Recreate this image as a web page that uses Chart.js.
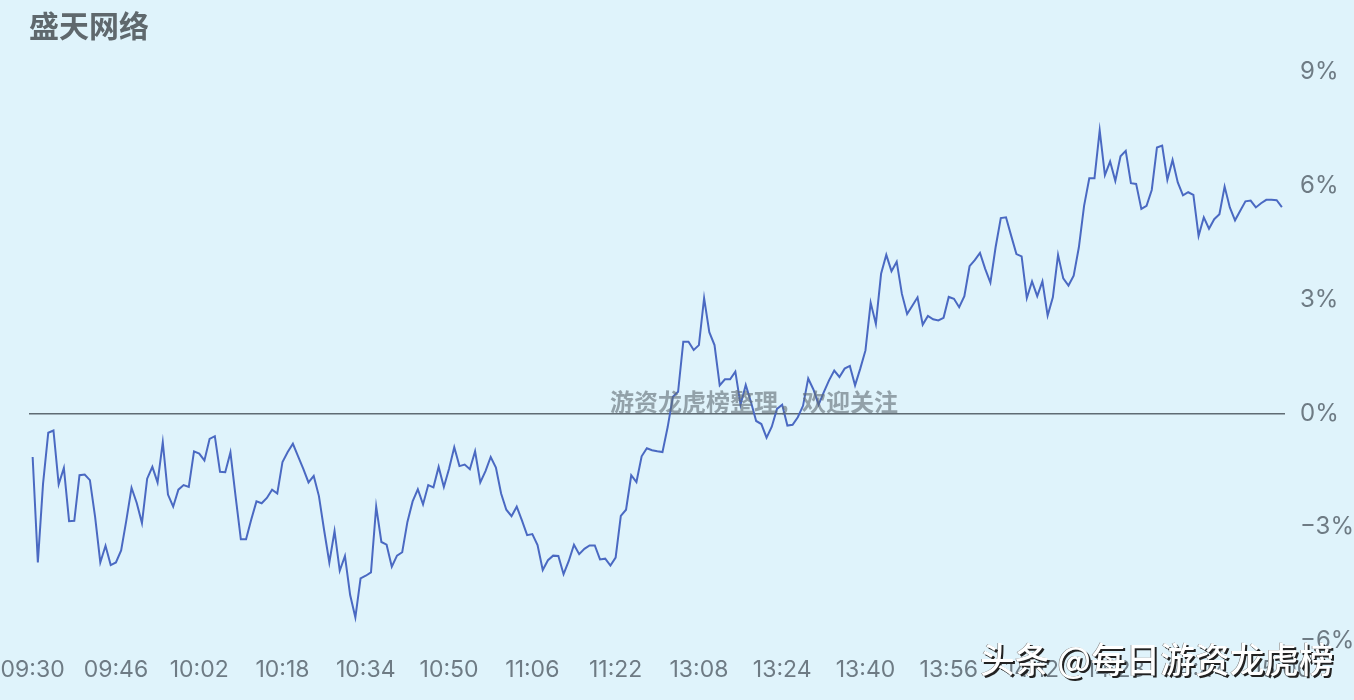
<!DOCTYPE html>
<html>
<head>
<meta charset="utf-8">
<title>盛天网络</title>
<script src="https://cdn.jsdelivr.net/npm/chart.js@4"></script>
<style>
  html, body { margin: 0; padding: 0; background: #dff3fb; overflow: hidden; }
  #wrap { position: relative; width: 1354px; height: 700px; }
  canvas { display: block; }
  .note { position: absolute; white-space: nowrap; font-family: "Noto Sans CJK SC", sans-serif; }
  #note-center { left: 610px; top: 384px; font-size: 24px; line-height: 34px; font-weight: 700; color: rgba(95, 107, 115, 0.6); }
  #note-mark { left: 980px; top: 635px; font-size: 34.7px; line-height: 46px; font-weight: 500; color: #fff; text-shadow: 2px 2px 0 #222, -0.5px -0.5px 0 #666; }
</style>
</head>
<body>
<div id="wrap">
  <canvas id="chart" width="1354" height="700"></canvas>
  <div class="note" id="note-center">游资龙虎榜整理，欢迎关注</div>
  <div class="note" id="note-mark">头条 @每日游资龙虎榜</div>
</div>
<script>
const stockName = "盛天网络";
const tickTimes = ["09:30", "09:46", "10:02", "10:18", "10:34", "10:50", "11:06", "11:22", "13:08", "13:24", "13:40", "13:56", "14:12", "14:28", "14:44", "15:00"];
const yTicks = [-6, -3, 0, 3, 6, 9];

// percent change, one value per minute
const morning = [
  -1.15, -3.93, -1.85, -0.51, -0.45, -1.87, -1.44, -2.84, -2.83, -1.63,
  -1.61, -1.76, -2.73, -3.93, -3.49, -4.00, -3.93, -3.61, -2.82, -1.96,
  -2.36, -2.89, -1.72, -1.41, -1.82, -0.76, -2.14, -2.46, -2.01, -1.89,
  -1.94, -1.00, -1.06, -1.24, -0.67, -0.60, -1.54, -1.55, -1.03, -2.20,
  -3.32, -3.32, -2.80, -2.32, -2.37, -2.23, -2.01, -2.11, -1.28, -1.02,
  -0.80, -1.13, -1.46, -1.82, -1.65, -2.18, -3.08, -3.93, -3.10, -4.15,
  -3.76, -4.79, -5.38, -4.35, -4.28, -4.19, -2.46, -3.39, -3.46, -4.04,
  -3.75, -3.66, -2.86, -2.32, -2.00, -2.40, -1.89, -1.95, -1.41, -1.94,
  -1.46, -0.89, -1.39, -1.35, -1.47, -1.00, -1.82, -1.52, -1.15, -1.43,
  -2.11, -2.54, -2.71, -2.46, -2.82, -3.21, -3.18, -3.47, -4.13, -3.87,
  -3.75, -3.76, -4.24, -3.89, -3.46, -3.71, -3.57, -3.48, -3.48, -3.85,
  -3.83, -4.01, -3.80, -2.70, -2.54, -1.63, -1.81, -1.13, -0.92, -0.97
];
const afternoon = [
  -1.00, -1.02, -0.36, 0.44, 0.57, 1.89, 1.89, 1.67, 1.80, 3.04,
  2.14, 1.80, 0.74, 0.90, 0.90, 1.10, 0.23, 0.75, 0.30, -0.20,
  -0.28, -0.64, -0.35, 0.12, 0.23, -0.32, -0.30, -0.10, 0.20, 0.92,
  0.63, 0.23, 0.56, 0.87, 1.13, 0.96, 1.18, 1.25, 0.74, 1.18,
  1.66, 2.92, 2.36, 3.68, 4.18, 3.75, 4.00, 3.15, 2.62, 2.84,
  3.06, 2.34, 2.57, 2.48, 2.45, 2.52, 3.07, 3.02, 2.80, 3.09,
  3.88, 4.04, 4.23, 3.81, 3.45, 4.38, 5.15, 5.17, 4.68, 4.20,
  4.14, 3.04, 3.48, 3.09, 3.48, 2.58, 3.06, 4.18, 3.56, 3.37,
  3.63, 4.38, 5.47, 6.20, 6.20, 7.46, 6.28, 6.64, 6.13, 6.78,
  6.92, 6.07, 6.05, 5.39, 5.47, 5.89, 7.01, 7.06, 6.16, 6.68,
  6.09, 5.75, 5.83, 5.76, 4.68, 5.17, 4.87, 5.12, 5.25, 5.98,
  5.43, 5.09, 5.34, 5.59, 5.61, 5.43, 5.54, 5.63, 5.63, 5.62,
  5.44
];

const changes = morning.concat(afternoon);
const textFont = "Inter, 'Noto Sans', sans-serif";

// keep the plot box fixed, labels may hang over its edges
function noScalePadding(axis) {
  axis.paddingLeft = 0;
  axis.paddingRight = 0;
  axis.paddingTop = 0;
  axis.paddingBottom = 0;
}

new Chart(document.getElementById("chart"), {
  type: "line",
  data: {
    datasets: [{
      data: changes.map((v, i) => ({ x: i, y: v })),
      borderColor: "#4a69c2",
      borderWidth: 2,
      pointRadius: 0,
      tension: 0
    }]
  },
  options: {
    responsive: false,
    animation: false,
    devicePixelRatio: 1,
    layout: { padding: { left: 29, right: 0, top: 8, bottom: 19 } },
    plugins: {
      legend: { display: false },
      tooltip: { enabled: false },
      title: {
        display: true,
        text: stockName,
        align: "start",
        color: "#5f686d",
        font: { family: "'Noto Sans CJK SC', sans-serif", size: 30, weight: "bold" },
        padding: { top: 0, bottom: 28 }
      }
    },
    scales: {
      x: {
        type: "linear",
        min: -0.7,
        max: 240.6,
        afterBuildTicks: (axis) => { axis.ticks = tickTimes.map((t, i) => ({ value: i * 16 })); },
        afterFit: (axis) => { noScalePadding(axis); axis.height = 40; },
        grid: { display: false },
        border: { display: false },
        ticks: {
          autoSkip: false,
          maxRotation: 0,
          color: "#6e7b84",
          padding: 7,
          font: { family: textFont, size: 23 },
          callback: (value) => tickTimes[value / 16]
        }
      },
      y: {
        position: "right",
        min: -6,
        max: 9,
        afterBuildTicks: (axis) => { axis.ticks = yTicks.map((v) => ({ value: v })); },
        afterFit: (axis) => { noScalePadding(axis); axis.width = 69; },
        border: { display: false },
        grid: {
          drawTicks: false,
          color: (ctx) => (ctx.tick && ctx.tick.value === 0 ? "#5f6b73" : "rgba(0,0,0,0)"),
          lineWidth: 1.6
        },
        ticks: {
          color: "#6e7b84",
          padding: 15,
          font: { family: textFont, size: 24 },
          callback: (value) => String(value).replace("-", "\u2212") + "%"
        }
      }
    }
  }
});
</script>
</body>
</html>
